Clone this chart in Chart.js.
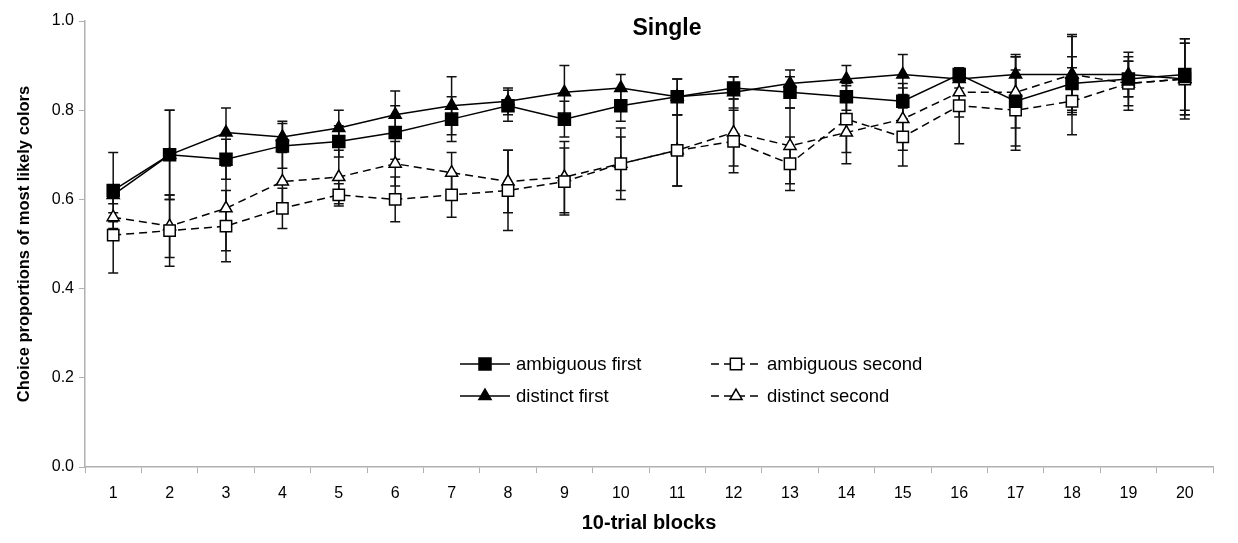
<!DOCTYPE html>
<html>
<head>
<meta charset="utf-8">
<script src="https://cdn.jsdelivr.net/npm/chart.js@4"></script>
<style>
  html, body { margin: 0; padding: 0; background: #fff; }
  #wrap { width: 1238px; height: 543px; }
</style>
</head>
<body>
<div id="wrap"><canvas id="linechart" width="1238" height="543"></canvas></div>
<script>
const blocks = ['1','2','3','4','5','6','7','8','9','10','11','12','13','14','15','16','17','18','19','20'];
const yTicks = [0, 0.2, 0.4, 0.6, 0.8, 1.0];

const ambFirst  = [0.62, 0.70, 0.69, 0.72, 0.73, 0.75, 0.78, 0.81, 0.78, 0.81, 0.83, 0.85, 0.84, 0.83, 0.82, 0.88, 0.82, 0.86, 0.87, 0.88];
const distFirst = [0.61, 0.70, 0.75, 0.74, 0.76, 0.79, 0.81, 0.82, 0.84, 0.85, 0.83, 0.84, 0.86, 0.87, 0.88, 0.87, 0.88, 0.88, 0.88, 0.87];
const ambSecond = [0.52, 0.53, 0.54, 0.58, 0.61, 0.60, 0.61, 0.62, 0.64, 0.68, 0.71, 0.73, 0.68, 0.78, 0.74, 0.81, 0.80, 0.82, 0.86, 0.87];
const distSecond= [0.56, 0.54, 0.58, 0.64, 0.65, 0.68, 0.66, 0.64, 0.65, 0.68, 0.71, 0.75, 0.72, 0.75, 0.78, 0.84, 0.84, 0.88, 0.86, 0.87];

// half-lengths of the error bars
const ambFirstErr  = [0.085, 0.10, 0.045, 0.05, 0.035, 0.06, 0.05, 0.035, 0.04, 0.035, 0.04, 0.025, 0.035, 0.03, 0.04, 0.01, 0.10, 0.06, 0.04, 0.08];
const distFirstErr = [0.02, 0.10, 0.055, 0.035, 0.04, 0.053, 0.065, 0.03, 0.06, 0.03, 0.04, 0.035, 0.03, 0.03, 0.045, 0.02, 0.045, 0.085, 0.05, 0.09];
const ambSecondErr = [0.085, 0.08, 0.08, 0.045, 0.025, 0.05, 0.05, 0.09, 0.075, 0.08, 0.08, 0.07, 0.06, 0.075, 0.065, 0.085, 0.09, 0.075, 0.05, 0.08];
const distSecondErr= [0.01, 0.07, 0.095, 0.07, 0.06, 0.05, 0.045, 0.07, 0.08, 0.06, 0.08, 0.075, 0.085, 0.07, 0.07, 0.055, 0.08, 0.09, 0.06, 0.08];

const FONT = '"Liberation Sans", Arial, Helvetica, sans-serif';

const errorBars = {
  id: 'errorBars',
  beforeDatasetsDraw(chart) {
    const ctx = chart.ctx;
    const x = chart.scales.x, y = chart.scales.y;
    ctx.save();
    ctx.strokeStyle = '#111';
    ctx.lineWidth = 1.5;
    ctx.setLineDash([]);
    chart.data.datasets.forEach(ds => {
      ds.data.forEach((v, i) => {
        const px = x.getPixelForValue(i);
        const top = y.getPixelForValue(v + ds.err[i]);
        const bot = y.getPixelForValue(v - ds.err[i]);
        ctx.beginPath();
        ctx.moveTo(px, top); ctx.lineTo(px, bot);
        ctx.moveTo(px - 5, top); ctx.lineTo(px + 5, top);
        ctx.moveTo(px - 5, bot); ctx.lineTo(px + 5, bot);
        ctx.stroke();
      });
    });
    ctx.restore();
  }
};

function drawMarker(ctx, style, filled, cx, cy, r) {
  ctx.beginPath();
  if (style === 'rect') {
    const s = r * Math.SQRT1_2;
    ctx.rect(cx - s, cy - s, 2 * s, 2 * s);
  } else {
    ctx.moveTo(cx, cy - r);
    ctx.lineTo(cx + r * Math.sin(Math.PI / 3 * 2), cy + r * 0.5);
    ctx.lineTo(cx - r * Math.sin(Math.PI / 3 * 2), cy + r * 0.5);
    ctx.closePath();
  }
  ctx.fillStyle = filled ? '#000' : '#fff';
  ctx.fill();
  ctx.stroke();
}

const extras = {
  id: 'extras',
  afterDraw(chart) {
    const ctx = chart.ctx;
    ctx.save();
    ctx.fillStyle = '#000';
    ctx.font = 'bold 23px ' + FONT;
    ctx.textAlign = 'center';
    ctx.textBaseline = 'middle';
    ctx.fillText('Single', 667, 29);

    // legend
    const items = [
      { ds: 0, x: 460, y: 364 },
      { ds: 2, x: 711, y: 364 },
      { ds: 1, x: 460, y: 396 },
      { ds: 3, x: 711, y: 396 }
    ];
    ctx.font = '18.5px ' + FONT;
    ctx.textAlign = 'left';
    items.forEach(it => {
      const ds = chart.data.datasets[it.ds];
      ctx.strokeStyle = '#000';
      ctx.lineWidth = 1.5;
      ctx.setLineDash(ds.borderDash || []);
      ctx.beginPath();
      ctx.moveTo(it.x, it.y); ctx.lineTo(it.x + 50, it.y);
      ctx.stroke();
      ctx.setLineDash([]);
      drawMarker(ctx, ds.pointStyle, ds.pointBackgroundColor === '#000', it.x + 25, it.y, ds.pointRadius);
      ctx.fillStyle = '#000';
      ctx.fillText(ds.label, it.x + 56, it.y + 1);
    });
    ctx.restore();
  }
};

function series(label, values, err, style, filled, dashed, radius) {
  return {
    label: label,
    data: values,
    err: err,
    borderColor: '#000',
    borderWidth: 1.5,
    borderDash: dashed ? [8, 5] : [],
    pointStyle: style,
    pointRadius: radius,
    pointBorderWidth: 1.5,
    pointBorderColor: '#000',
    pointBackgroundColor: filled ? '#000' : '#fff',
    tension: 0,
    fill: false
  };
}

const ctx = document.getElementById('linechart').getContext('2d');
const linechart = new Chart(ctx, {
  type: 'line',
  data: {
    labels: blocks,
    datasets: [
      series('ambiguous first', ambFirst, ambFirstErr, 'rect', true, false, 8.5),
      series('distinct first', distFirst, distFirstErr, 'triangle', true, false, 7),
      series('ambiguous second', ambSecond, ambSecondErr, 'rect', false, true, 8),
      series('distinct second', distSecond, distSecondErr, 'triangle', false, true, 7)
    ]
  },
  options: {
    responsive: false,
    animation: false,
    layout: { padding: { top: 21, right: 25, left: 0, bottom: 0 } },
    plugins: {
      legend: { display: false },
      title: { display: false },
      tooltip: { enabled: false }
    },
    scales: {
      x: {
        offset: true,
        grid: { offset: true, drawOnChartArea: false, drawTicks: true, tickLength: 6, color: '#b0b0b0' },
        border: { color: '#b0b0b0', width: 1.5 },
        ticks: { color: '#000', font: { family: FONT, size: 16 }, padding: 11, maxRotation: 0 },
        title: { display: true, text: '10-trial blocks', color: '#000', font: { family: FONT, size: 20, weight: 'bold' }, padding: { top: 0, bottom: 8 } },
        afterFit(scale) { scale.height = 76; }
      },
      y: {
        min: 0,
        max: 1,
        afterBuildTicks(scale) { scale.ticks = yTicks.map(v => ({ value: v })); },
        grid: { drawOnChartArea: false, drawTicks: true, tickLength: 6, color: '#b0b0b0' },
        border: { color: '#b0b0b0', width: 1.5 },
        ticks: { color: '#000', font: { family: FONT, size: 16 }, padding: 5, callback: v => v.toFixed(1) },
        title: { display: true, text: 'Choice proportions of most likely colors', color: '#000', font: { family: FONT, size: 16.5, weight: 'bold' }, padding: { top: 15, bottom: 0 } },
        afterFit(scale) { scale.width = 85; }
      }
    }
  },
  plugins: [errorBars, extras]
});
</script>
</body>
</html>
